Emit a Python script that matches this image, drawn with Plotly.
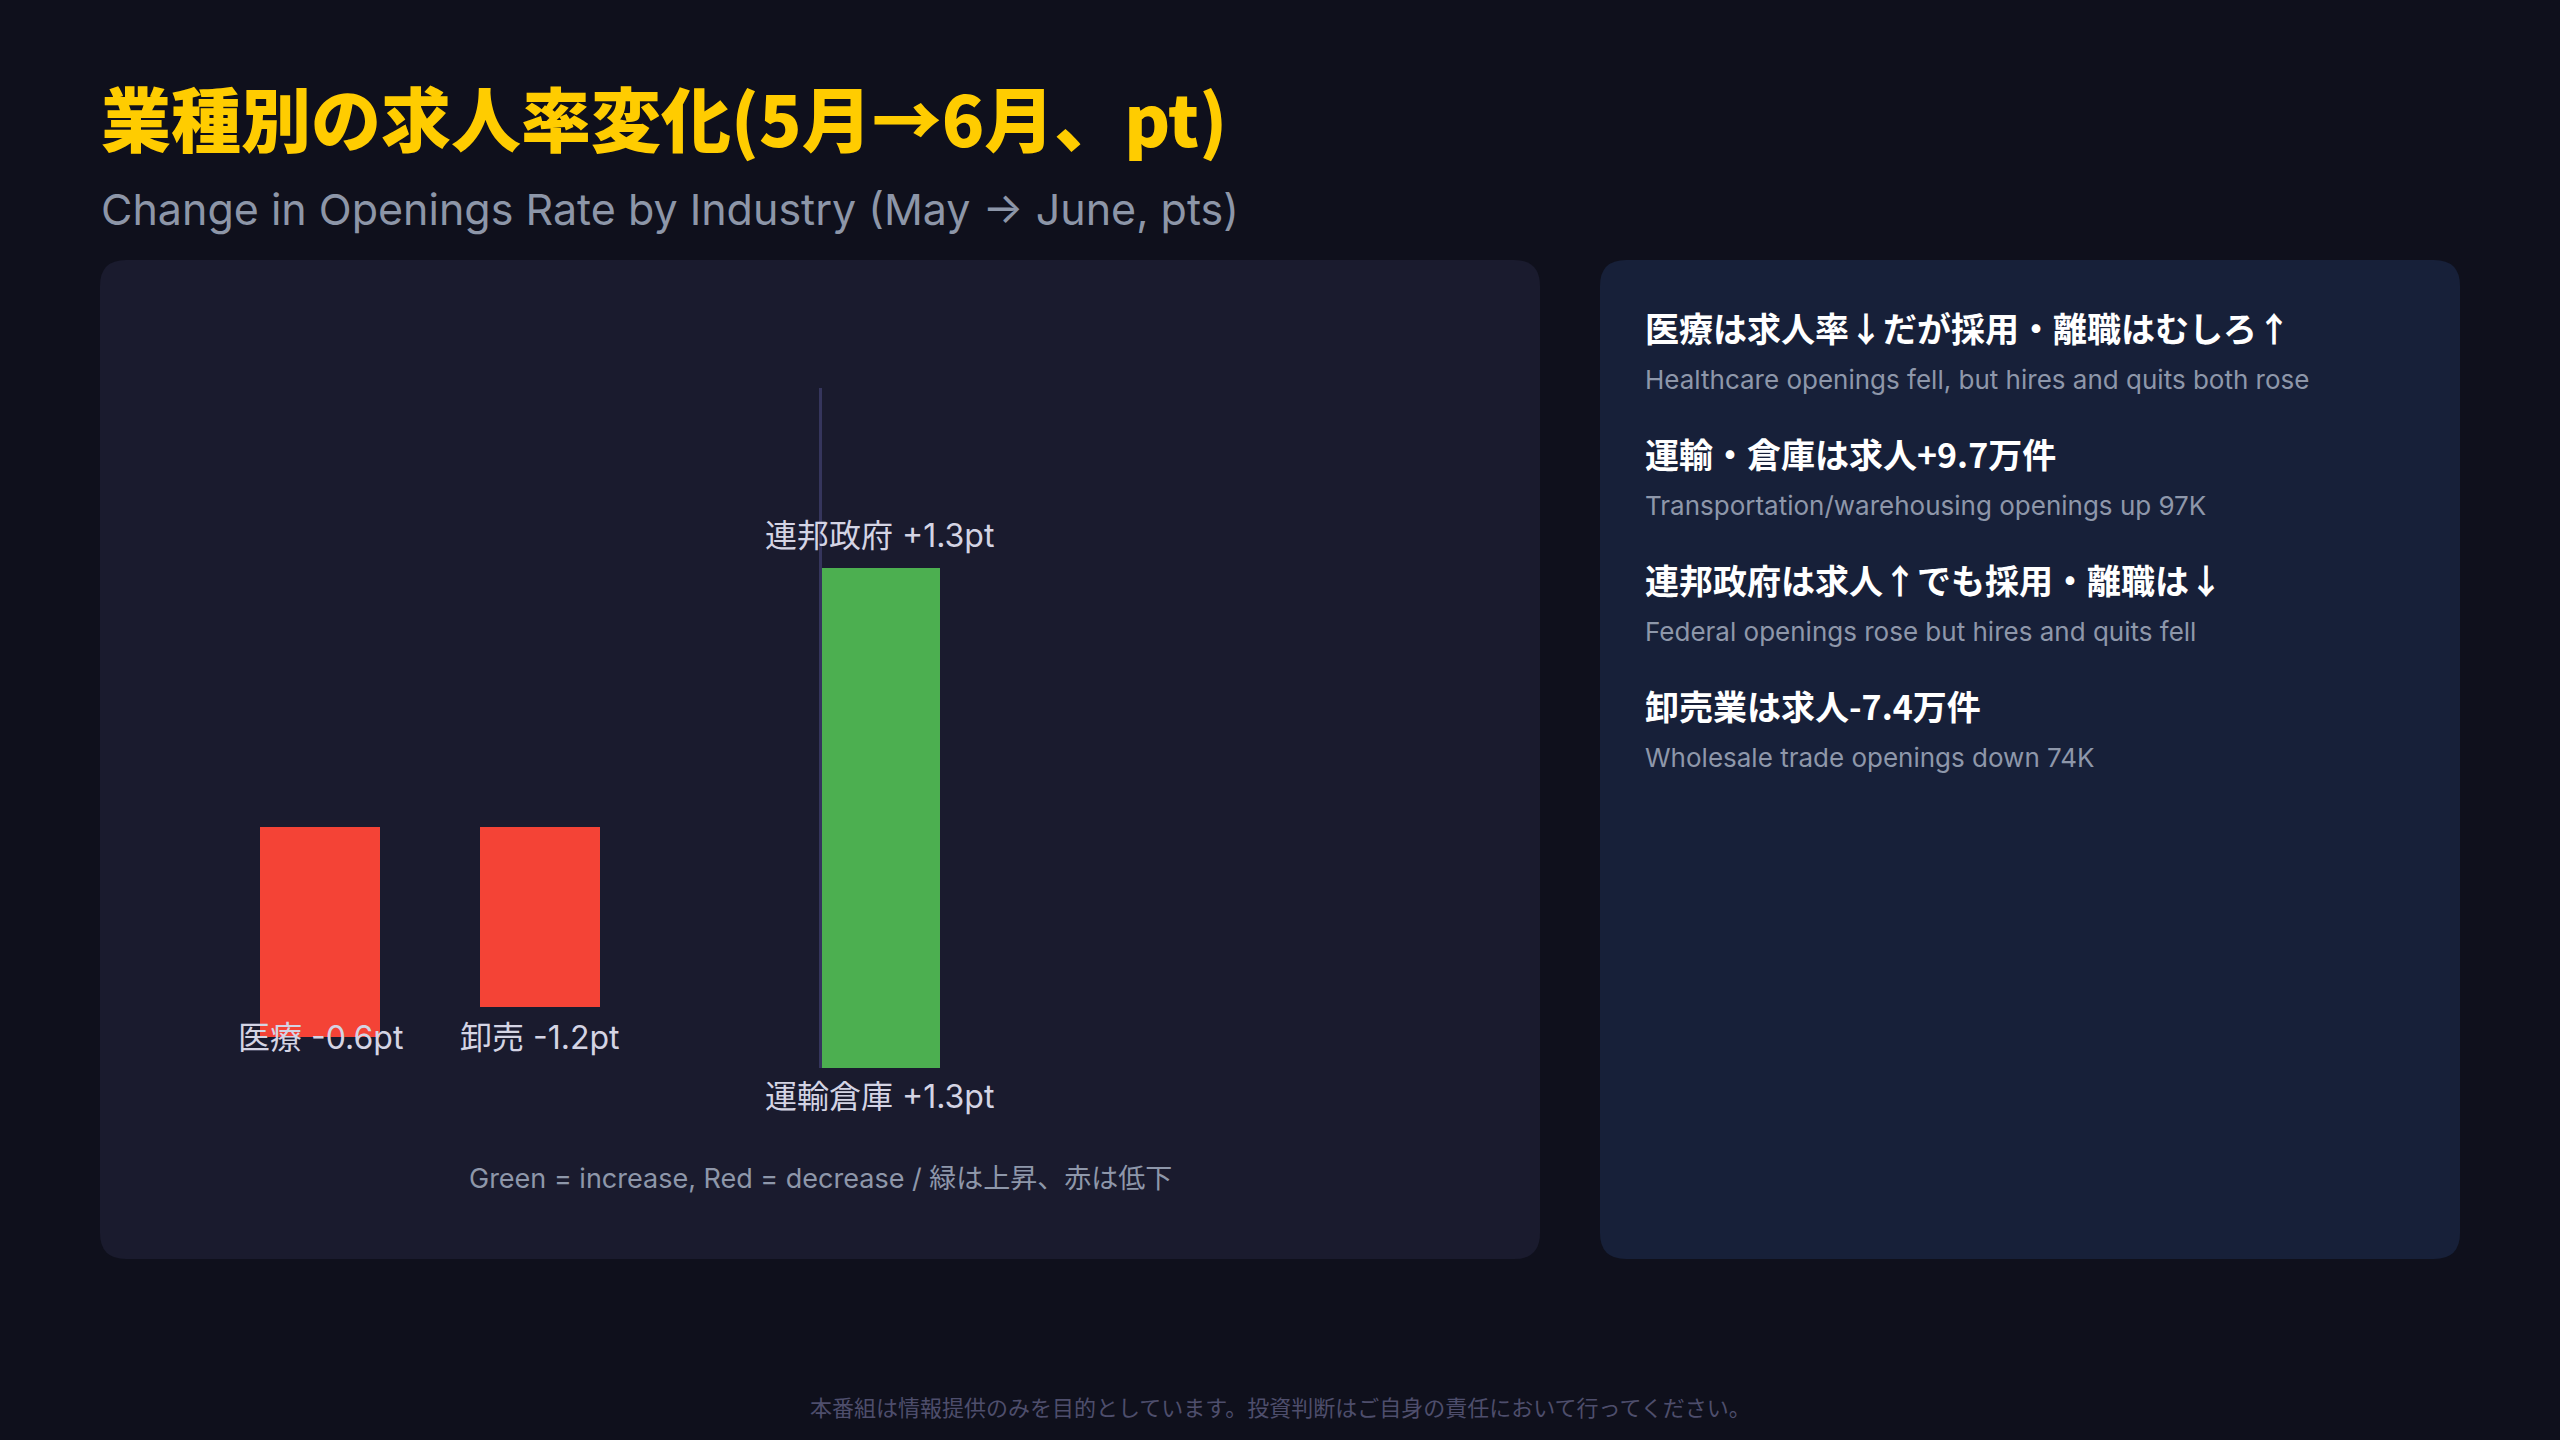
import plotly.graph_objects as go

# ---------------- data ----------------
industries = ["医療", "卸売", "運輸倉庫", "連邦政府"]
change_pt = [-0.6, -1.2, 1.3, 1.3]          # labelled change (pt)
bar_from = [0.0, 0.0, -0.69, -0.69]         # drawn span start (chart units)
bar_to = [-0.6, -0.515, 0.74, 0.74]         # drawn span end (chart units)

insight_ja = [
    "医療は求人率↓だが採用・離職はむしろ↑",
    "運輸・倉庫は求人+9.7万件",
    "連邦政府は求人↑でも採用・離職は↓",
    "卸売業は求人-7.4万件",
]
insight_en = [
    "Healthcare openings fell, but hires and quits both rose",
    "Transportation/warehousing openings up 97K",
    "Federal openings rose but hires and quits fell",
    "Wholesale trade openings down 74K",
]

title_ja = "業種別の求人率変化(5月→6月、pt)"
title_en = "Change in Openings Rate by Industry (May → June, pts)"
note_text = "Green = increase, Red = decrease / 緑は上昇、赤は低下"
footer_text = "本番組は情報提供のみを目的としています。投資判断はご自身の責任において行ってください。"

# ---------------- styling ----------------
W, H = 2560, 1440
BG = "#0f101c"
CARD1 = "#1a1b2e"
CARD2 = "#172039"
UP = "#4CAF50"
DOWN = "#F44336"
FONT = "Inter, 'Noto Sans CJK JP', sans-serif"
JFONT = "'Noto Sans CJK JP', Inter, sans-serif"

BAR_W = 0.548          # bar width in category steps
GREEN_SLOT = 2.545     # where overlapping increase bars sit (category units)


def px(x):
    return x / W


def py(y):
    return 1 - y / H


def rounded_rect(x0, y0, x1, y1, r):
    rx, ry = r / W, r / H
    X0, X1 = px(x0), px(x1)
    Y0, Y1 = py(y0), py(y1)
    return (
        f"M {X0+rx},{Y0} L {X1-rx},{Y0} Q {X1},{Y0} {X1},{Y0-ry} "
        f"L {X1},{Y1+ry} Q {X1},{Y1} {X1-rx},{Y1} "
        f"L {X0+rx},{Y1} Q {X0},{Y1} {X0},{Y1+ry} "
        f"L {X0},{Y0-ry} Q {X0},{Y0} {X0+rx},{Y0} Z"
    )


colors = [UP if v > 0 else DOWN for v in change_pt]
offsets = []
for i, v in enumerate(change_pt):
    if v > 0:
        offsets.append(GREEN_SLOT - i - BAR_W / 2)
    else:
        offsets.append(-BAR_W / 2)
sizes = [t - f for f, t in zip(bar_from, bar_to)]

fig = go.Figure()
fig.add_trace(
    go.Bar(
        x=industries,
        y=sizes,
        base=bar_from,
        offset=offsets,
        width=[BAR_W] * len(industries),
        marker=dict(color=colors, line=dict(width=0)),
        hoverinfo="skip",
        showlegend=False,
    )
)

annotations = []
label_font = dict(family=FONT, size=32, color="#d4d4e4")
dec_level = max(t for t, v in zip(bar_to, change_pt) if v < 0)
inc_seen = 0
for i, (name, v) in enumerate(zip(industries, change_pt)):
    xc = i + offsets[i] + BAR_W / 2
    txt = f"{name} {v:+.1f}pt"
    if v < 0:
        annotations.append(dict(x=xc, y=dec_level, xref="x", yref="y", text=txt,
                                showarrow=False, xanchor="center", yanchor="top",
                                yshift=-9, font=label_font))
    else:
        if inc_seen == 0:
            annotations.append(dict(x=xc, y=bar_from[i], xref="x", yref="y", text=txt,
                                    showarrow=False, xanchor="center", yanchor="top",
                                    yshift=-7, font=label_font))
        else:
            annotations.append(dict(x=xc, y=bar_to[i], xref="x", yref="y", text=txt,
                                    showarrow=False, xanchor="center", yanchor="bottom",
                                    yshift=11, font=label_font))
        inc_seen += 1

# titles
annotations.append(dict(x=px(99), y=py(116), xref="paper", yref="paper",
                        text=title_ja, showarrow=False,
                        xanchor="left", yanchor="middle",
                        font=dict(family=JFONT, size=70, color="#FFCC00", weight=900)))
annotations.append(dict(x=px(99), y=py(209), xref="paper", yref="paper",
                        text=title_en, showarrow=False, xanchor="left", yanchor="middle",
                        font=dict(family=FONT, size=43, color="#8d96a8")))
# note under chart
annotations.append(dict(x=px(820), y=py(1178), xref="paper", yref="paper",
                        text=note_text, showarrow=False, xanchor="center", yanchor="middle",
                        font=dict(family=FONT, size=27, color="#8e97aa")))
# footer
annotations.append(dict(x=0.5, y=py(1406), xref="paper", yref="paper",
                        text=footer_text, showarrow=False, xanchor="center", yanchor="middle",
                        font=dict(family=JFONT, size=22, color="#4e4e6c")))
# insights
for k, (ja, en) in enumerate(zip(insight_ja, insight_en)):
    y_head = 328 + 125.7 * k
    annotations.append(dict(x=px(1643), y=py(y_head), xref="paper", yref="paper",
                            text=ja, showarrow=False, xanchor="left",
                            yanchor="middle",
                            font=dict(family=JFONT, size=34, color="#ffffff", weight=700)))
    annotations.append(dict(x=px(1643), y=py(y_head + 52), xref="paper", yref="paper",
                            text=en, showarrow=False, xanchor="left", yanchor="middle",
                            font=dict(family=FONT, size=26, color="#8e97aa")))

shapes = [
    dict(type="path", xref="paper", yref="paper", path=rounded_rect(100, 260, 1540, 1259, 26),
         fillcolor=CARD1, line=dict(width=0), layer="below"),
    dict(type="path", xref="paper", yref="paper", path=rounded_rect(1600, 260, 2460, 1259, 26),
         fillcolor=CARD2, line=dict(width=0), layer="below"),
]

fig.update_layout(
    width=W, height=H,
    margin=dict(l=0, r=0, t=0, b=0),
    paper_bgcolor=BG, plot_bgcolor="rgba(0,0,0,0)",
    bargap=0,
    xaxis=dict(domain=[px(100), px(1540)], type="category",
               categoryorder="array", categoryarray=industries,
               range=[-1.0018, 5.549], visible=False, fixedrange=True),
    yaxis=dict(domain=[py(1068), py(388)], range=[-0.69, 1.255],
               showgrid=False, zeroline=False, showticklabels=False, ticks="",
               showline=True, linecolor="#35355c", linewidth=3,
               anchor="free", position=px(819.5), fixedrange=True),
    shapes=shapes,
    annotations=annotations,
    font=dict(family=FONT),
)

fig.write_html(
    "out.html",
    include_plotlyjs=True,
    config=dict(displayModeBar=False, staticPlot=True),
    post_script="document.body.style.margin='0';document.body.style.overflow='hidden';",
)
